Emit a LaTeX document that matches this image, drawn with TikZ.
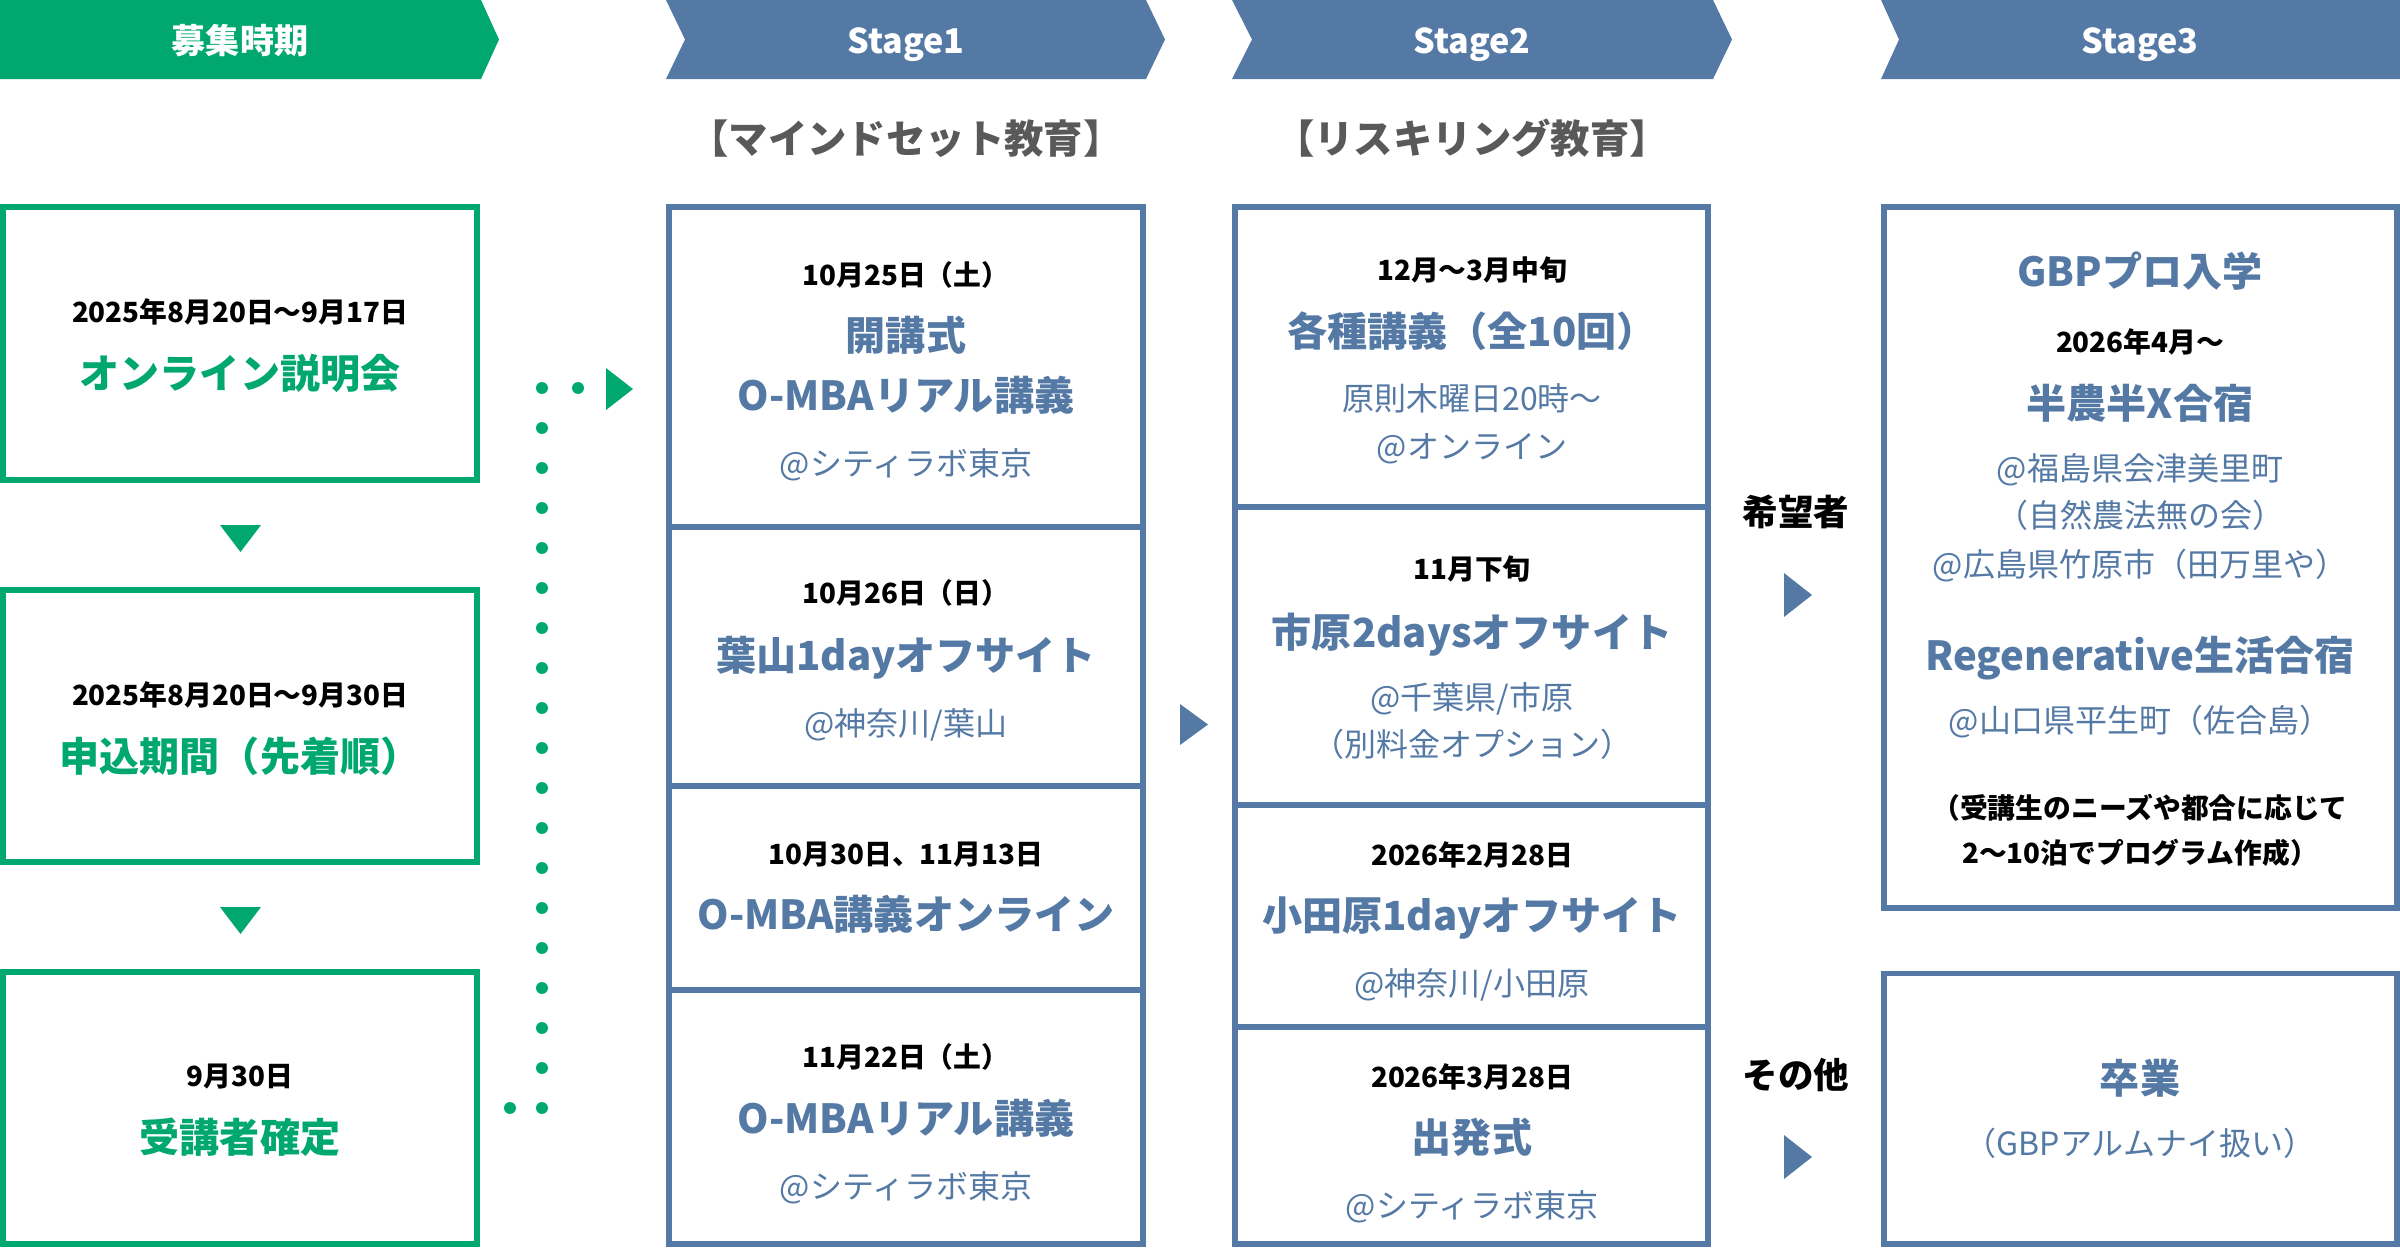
\documentclass[tikz,border=0pt]{standalone}
\usepackage{fontspec}
\setmainfont{Noto Sans CJK JP}

\definecolor{kgreen}{RGB}{0,168,112}
\definecolor{kblue}{RGB}{84,121,165}
\definecolor{kgray}{RGB}{89,89,89}

\begin{document}
\begin{tikzpicture}[x=0.01cm, y=-0.01cm,
    txt/.style={inner sep=0, text height=0.88em, text depth=0.12em},
    bannertxt/.style={txt, text=white, font=\bfseries\fontsize{9.7}{11}\selectfont},
    headtxt/.style={txt, text=kgray, font=\bfseries\fontsize{11.2}{13}\selectfont},
    datetxt/.style={txt, text=black, font=\bfseries\fontsize{7.9}{10}\selectfont, yshift=0.8pt},
    gtitle/.style={txt, text=kgreen, font=\bfseries\fontsize{11.4}{13}\selectfont},
    btitle/.style={txt, text=kblue, font=\bfseries\fontsize{11.4}{13}\selectfont},
    subtxt/.style={txt, text=kblue, font=\fontsize{9.1}{11}\selectfont},
    choicetxt/.style={txt, text=black, font=\bfseries\fontsize{10.1}{12}\selectfont},
    gbox/.style={draw=kgreen, line width=1.6pt},
    bbox/.style={draw=kblue, line width=1.6pt}]

    \useasboundingbox (0,0) rectangle (2400,1248);

    % banners
    \fill[kgreen] (0,0) -- (481,0) -- (499,39.5) -- (481,79) -- (0,79) -- cycle;
    \fill[kblue] (666,0) -- (1146,0) -- (1165,39.5) -- (1146,79) -- (666,79) -- (685,39.5) -- cycle;
    \fill[kblue] (1232,0) -- (1713,0) -- (1732,39.5) -- (1713,79) -- (1232,79) -- (1252,39.5) -- cycle;
    \fill[kblue] (1881,0) -- (2400,0) -- (2400,79) -- (1881,79) -- (1899,39.5) -- cycle;

    \node[bannertxt] (bnBoshu) at (240,40) {募集時期};
    \node[bannertxt] (bnStage1) at (906,40) {Stage1};
    \node[bannertxt] (bnStage2) at (1472,40) {Stage2};
    \node[bannertxt] (bnStage3) at (2140,40) {Stage3};

    \node[headtxt] (hdMind) at (906,140) {【マインドセット教育】};
    \node[headtxt] (hdReskill) at (1472,140) {【リスキリング教育】};

    % recruitment column
    \draw[gbox] (2.8,206.8) rectangle (477.2,480.2);
    \draw[gbox] (2.8,589.8) rectangle (477.2,862.2);
    \draw[gbox] (2.8,971.8) rectangle (477.2,1244.2);

    \node[datetxt] (g1d) at (240,312) {2025年8月20日～9月17日};
    \node[gtitle] (g1t) at (240,375) {オンライン説明会};
    \node[datetxt] (g2d) at (240,695) {2025年8月20日～9月30日};
    \node[gtitle] (g2t) at (240,758) {申込期間（先着順）};
    \node[datetxt] (g3d) at (240,1076) {9月30日};
    \node[gtitle] (g3t) at (240,1139) {受講者確定};

    \fill[kgreen] (220,525) -- (261,525) -- (240.5,552) -- cycle;
    \fill[kgreen] (220,907) -- (261,907) -- (240.5,934) -- cycle;

    % dotted link to stage1
    \coordinate (dotTop) at (542,388);
    \coordinate (dotBot) at (542,1108);
    \coordinate (dotRight) at (578,388);
    \coordinate (dotLeft) at (510,1108);
    \foreach \y in {388,428,...,1108}
        \fill[kgreen] (542,\y) circle (1.7pt);
    \fill[kgreen] (dotRight) circle (1.7pt);
    \fill[kgreen] (dotLeft) circle (1.7pt);
    \fill[kgreen] (606,368) -- (633,389) -- (606,410) -- cycle;

    % stage1
    \draw[bbox] (668.8,206.8) rectangle (1143.2,527);
    \draw[bbox] (668.8,527) rectangle (1143.2,786);
    \draw[bbox] (668.8,786) rectangle (1143.2,990);
    \draw[bbox] (668.8,990) rectangle (1143.2,1244.2);

    \node[datetxt] (s1ad) at (906,275) {10月25日（土）};
    \node[btitle] (s1at) at (906,337) {開講式};
    \node[btitle] (s1au) at (906,397) {O-MBAリアル講義};
    \node[subtxt] (s1as) at (906,462) {@シティラボ東京};

    \node[datetxt] (s1bd) at (906,593) {10月26日（日）};
    \node[btitle] (s1bt) at (906,657) {葉山1dayオフサイト};
    \node[subtxt] (s1bs) at (906,722) {@神奈川/葉山};

    \node[datetxt] (s1cd) at (906,854) {10月30日、11月13日};
    \node[btitle] (s1ct) at (906,916) {O-MBA講義オンライン};

    \node[datetxt] (s1dd) at (906,1057) {11月22日（土）};
    \node[btitle] (s1dt) at (906,1120) {O-MBAリアル講義};
    \node[subtxt] (s1ds) at (906,1185) {@シティラボ東京};

    \fill[kblue] (1180,704) -- (1208,724.5) -- (1180,745) -- cycle;

    % stage2
    \draw[bbox] (1234.8,206.8) rectangle (1708.2,507);
    \draw[bbox] (1234.8,507) rectangle (1708.2,805);
    \draw[bbox] (1234.8,805) rectangle (1708.2,1027);
    \draw[bbox] (1234.8,1027) rectangle (1708.2,1244.2);

    \node[datetxt] (s2ad) at (1472,270) {12月～3月中旬};
    \node[btitle] (s2at) at (1472,333) {各種講義（全10回）};
    \node[subtxt] (s2as) at (1472,397) {原則木曜日20時～};
    \node[subtxt] (s2au) at (1472,445) {@オンライン};

    \node[datetxt] (s2bd) at (1472,569) {11月下旬};
    \node[btitle] (s2bt) at (1472,634) {市原2daysオフサイト};
    \node[subtxt] (s2bs) at (1472,696) {@千葉県/市原};
    \node[subtxt] (s2bu) at (1472,743) {（別料金オプション）};

    \node[datetxt] (s2cd) at (1472,855) {2026年2月28日};
    \node[btitle] (s2ct) at (1472,917) {小田原1dayオフサイト};
    \node[subtxt] (s2cs) at (1472,982) {@神奈川/小田原};

    \node[datetxt] (s2dd) at (1472,1077) {2026年3月28日};
    \node[btitle] (s2dt) at (1472,1139) {出発式};
    \node[subtxt] (s2ds) at (1472,1204) {@シティラボ東京};

    % choice
    \node[choicetxt] (chWish) at (1796,512) {希望者};
    \fill[kblue] (1784,573) -- (1812,595) -- (1784,617) -- cycle;
    \node[choicetxt] (chOther) at (1796,1075) {その他};
    \fill[kblue] (1784,1135) -- (1812,1157) -- (1784,1179) -- cycle;

    % stage3
    \draw[bbox] (1883.8,206.8) rectangle (2397.2,908);
    \draw[bbox] (1883.8,973.5) rectangle (2397.2,1244.2);

    \node[btitle] (s3at) at (2140,273) {GBPプロ入学};
    \node[datetxt] (s3ad) at (2140,342) {2026年4月～};
    \node[btitle] (s3au) at (2140,405) {半農半X合宿};
    \node[subtxt] (s3as) at (2140,467) {@福島県会津美里町};
    \node[subtxt] (s3aw) at (2140,514) {（自然農法無の会）};
    \node[subtxt] (s3ax) at (2140,563) {@広島県竹原市（田万里や）};
    \node[btitle] (s3av) at (2140,657) {Regenerative生活合宿};
    \node[subtxt] (s3ay) at (2140,719) {@山口県平生町（佐合島）};
    \node[datetxt] (s3an1) at (2140,808) {（受講生のニーズや都合に応じて};
    \node[datetxt] (s3an2) at (2140,853) {2～10泊でプログラム作成）};

    \node[btitle] (s3bt) at (2140,1080) {卒業};
    \node[subtxt] (s3bs) at (2140,1142) {（GBPアルムナイ扱い）};

\end{tikzpicture}
\end{document}
